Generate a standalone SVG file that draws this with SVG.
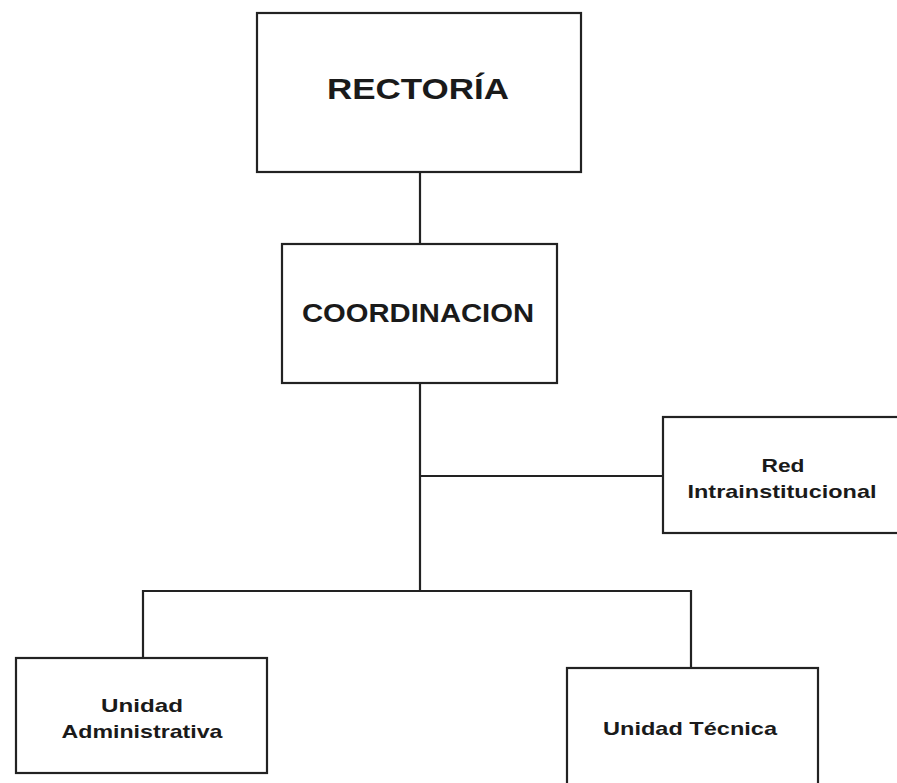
<svg xmlns="http://www.w3.org/2000/svg" width="897" height="783" viewBox="0 0 897 783">
  <style>
    .box { fill: #ffffff; stroke: #222222; stroke-width: 2.2; }
    .link { fill: none; stroke: #222222; stroke-width: 2.2; }
    .lbl { font-family: "Liberation Sans", Arial, sans-serif; font-weight: bold; fill: #1a1a1a; text-anchor: middle; }
  </style>
  <rect width="897" height="783" fill="#ffffff"/>

  <!-- connectors -->
  <g id="connectors">
    <line class="link" x1="420" y1="172" x2="420" y2="244"/>
    <line class="link" x1="420" y1="383" x2="420" y2="591"/>
    <line class="link" x1="420" y1="476" x2="663" y2="476"/>
    <polyline class="link" points="143,658 143,591 691,591 691,668"/>
  </g>

  <g id="rectoria">
    <rect class="box" x="257" y="13" width="324" height="159"/>
    <text class="lbl" x="418" y="99" font-size="30" textLength="182" lengthAdjust="spacingAndGlyphs">RECTORÍA</text>
  </g>

  <g id="coordinacion">
    <rect class="box" x="282" y="244" width="275" height="139"/>
    <text class="lbl" x="418" y="322" font-size="25" textLength="232" lengthAdjust="spacingAndGlyphs">COORDINACION</text>
  </g>

  <g id="red-intrainstitucional">
    <rect class="box" x="663" y="417" width="240" height="116"/>
    <text class="lbl" x="783" y="472" font-size="19" textLength="43" lengthAdjust="spacingAndGlyphs">Red</text>
    <text class="lbl" x="782" y="498" font-size="19" textLength="189" lengthAdjust="spacingAndGlyphs">Intrainstitucional</text>
  </g>

  <g id="unidad-administrativa">
    <rect class="box" x="16" y="658" width="251" height="115"/>
    <text class="lbl" x="142" y="712" font-size="19" textLength="82" lengthAdjust="spacingAndGlyphs">Unidad</text>
    <text class="lbl" x="142" y="738" font-size="19" textLength="161" lengthAdjust="spacingAndGlyphs">Administrativa</text>
  </g>

  <g id="unidad-tecnica">
    <rect class="box" x="567" y="668" width="251" height="130"/>
    <text class="lbl" x="690" y="735" font-size="19" textLength="174" lengthAdjust="spacingAndGlyphs">Unidad Técnica</text>
  </g>
</svg>
